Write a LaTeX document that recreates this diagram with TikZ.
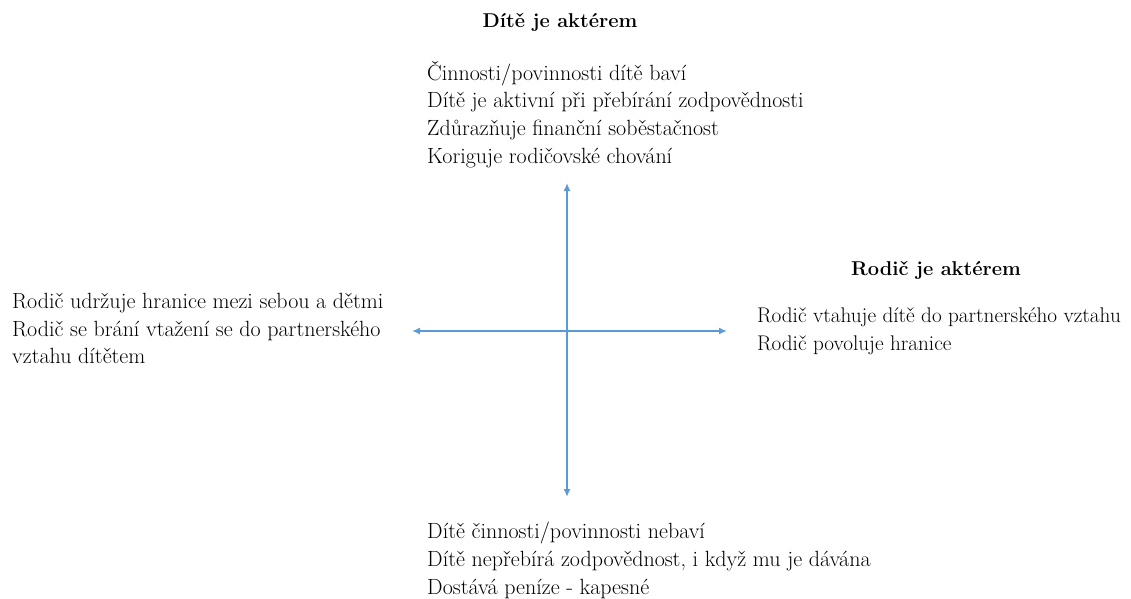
\documentclass[tikz,border=0pt]{standalone}
\usepackage{fontspec}
\usetikzlibrary{arrows.meta}
\definecolor{axisblue}{RGB}{91,155,213}
\tikzset{
  lbl/.style={align=left, inner sep=0pt, anchor=north west, font=\fontsize{22}{27.7}\selectfont},
  hdr/.style={inner sep=0pt, font=\fontsize{20}{24}\selectfont\bfseries},
  axis/.style={axisblue, line width=1.6pt, {Latex[length=8pt,width=7pt]}-{Latex[length=8pt,width=7pt]}}
}
\begin{document}
\begin{tikzpicture}[x=1pt,y=-1pt]
\useasboundingbox (0,0) rectangle (1131,598);
% axes
\coordinate (top) at (567,183);
\coordinate (bot) at (567,497);
\coordinate (lft) at (412,331);
\coordinate (rgt) at (727,331);
\draw[axis] (top) -- (bot);
\draw[axis] (lft) -- (rgt);
% headings
\node[hdr] (hchild) at (560,22) {Dítě je aktérem};
\node[hdr] (hparent) at (936,270) {Rodič je aktérem};
% quadrant texts
\node[lbl] (ttop) at (427,61) {Činnosti/povinnosti dítě baví\\Dítě je aktivní při přebírání zodpovědnosti\\Zdůrazňuje finanční soběstačnost\\Koriguje rodičovské chování};
\node[lbl, font=\fontsize{21.2}{27.7}\selectfont] (tright) at (757,308) {Rodič vtahuje dítě do partnerského vztahu\\Rodič povoluje hranice};
\node[lbl] (tleft) at (12,293) {Rodič udržuje hranice mezi sebou a dětmi\\Rodič se brání vtažení se do partnerského\\vztahu dítětem};
\node[lbl] (tbot) at (427,522) {Dítě činnosti/povinnosti nebaví\\Dítě nepřebírá zodpovědnost, i když mu je dávána\\Dostává peníze - kapesné};
\end{tikzpicture}
\end{document}
